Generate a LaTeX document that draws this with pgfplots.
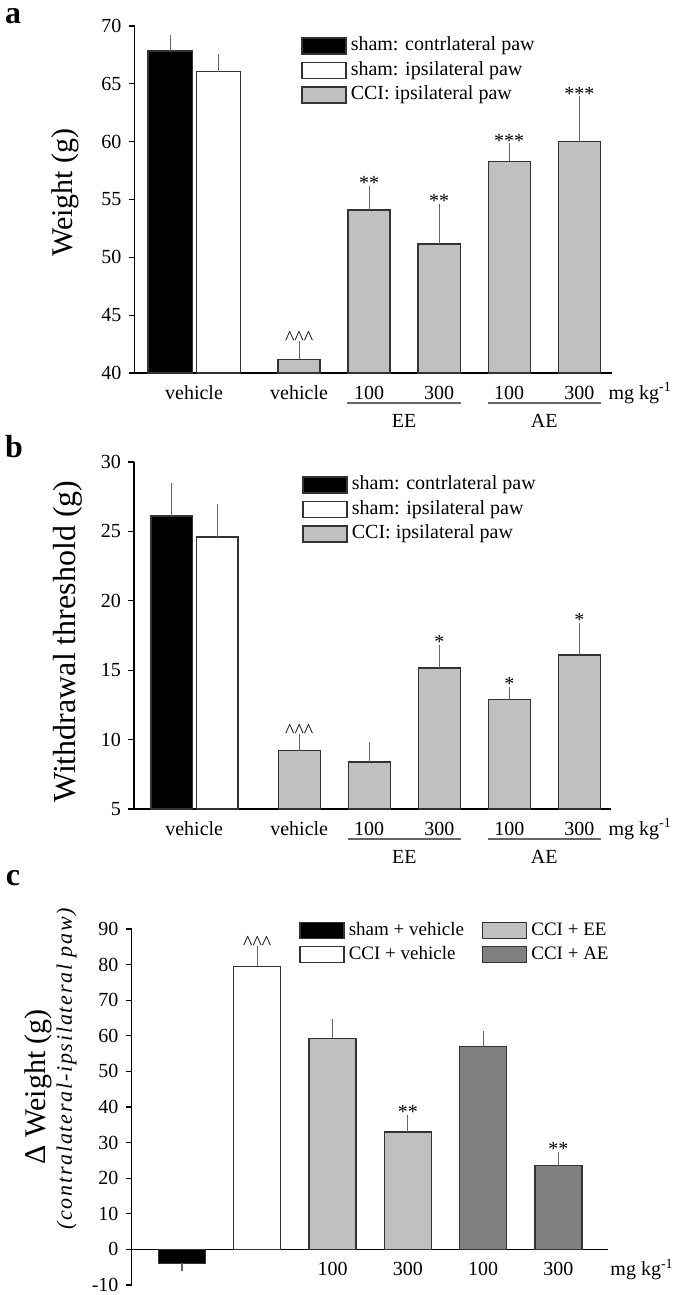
\documentclass[border=0pt]{standalone}
\usepackage{fontspec}
\setmainfont{Liberation Serif}
\usepackage{pgfplots}
\pgfplotsset{compat=1.18}

\definecolor{barg}{HTML}{C0C0C0}
\definecolor{bard}{HTML}{808080}
\definecolor{edge}{HTML}{333333}
\definecolor{errc}{HTML}{666666}
\newcommand{\carets}{\textasciicircum\textasciicircum\textasciicircum}
\newcommand{\mgkg}{mg kg\textsuperscript{-1}}

\tikzset{
  unit/.style={anchor=base, inner sep=0pt, font=\fontsize{10}{12}\selectfont},
  grp/.style={anchor=north, inner sep=0pt, font=\fontsize{10}{12}\selectfont},
  letter/.style={inner sep=0pt, font=\fontsize{16}{18}\selectfont\bfseries},
}

\pgfplotsset{
  panel/.style={
    scale only axis, clip mode=individual,
    axis x line*=bottom, axis y line*=left,
    axis line style={-, line width=0.8pt, black},
    tick align=outside, major tick length=3pt,
    ytick style={line width=0.6pt, black},
    xtick style={draw=none},
    tick label style={font=\fontsize{10}{12}\selectfont},
    /pgf/number format/assume math mode=true,
    label style={font=\fontsize{15}{18}\selectfont},
    legend cell align=left,
    legend style={draw=none, fill=none, inner sep=0pt, row sep=3pt,
      anchor=north west, font=\fontsize{10}{12}\selectfont,
      cells={anchor=west},
      nodes={inner xsep=2pt, inner ysep=0pt, text height=7pt, text depth=2.2pt}},
  },
  bar/.style={ybar, bar shift=0pt, bar width=#1, draw=edge, line width=0.7pt,
    error bars/y dir=plus, error bars/y explicit,
    error bars/error bar style={errc, line width=0.6pt},
    error bars/error mark options={errc, line width=0.6pt, mark size=2pt},
    legend image code/.code={\draw[##1] (0pt,-4pt) rectangle (22pt,4pt);}},
  sig/.style={draw=none, forget plot, nodes near coords,
    point meta=explicit symbolic,
    nodes near coords style={anchor=south, inner sep=0pt,
      font=\fontsize{10}{12}\selectfont}},
}

\begin{document}
\begin{tikzpicture}
\path[use as bounding box] (0,0) rectangle (337.5pt,-647.5pt);

\node[letter] at (6.5pt,-8pt) {a};
\node[letter] at (7pt,-223.5pt) {b};
\node[letter] at (6.5pt,-439pt) {c};

% ---- panel a ----
\begin{axis}[panel, at={(67.25pt,-186.5pt)}, anchor=south west,
  width=238.5pt, height=173.5pt,
  xmin=0.65, xmax=7.46, ymin=40, ymax=70, ytick={40,45,...,70},
  xtick={1.5,3,4,5,6,7}, xticklabels={vehicle,vehicle,100,300,100,300},
  ylabel={Weight (g)},
  ylabel style={at={(axis description cs:-0.145,0.52)}, anchor=center},
  legend style={at={(0.349,0.97)}},
  after end axis/.code={
    \node[unit] at ([yshift=-13.1pt]axis cs:7.87,40) {\mgkg};
    \draw[errc, line width=0.75pt] ([yshift=-15pt]axis cs:3.69,40) -- ([yshift=-15pt]axis cs:5.31,40);
    \draw[errc, line width=0.75pt] ([yshift=-15pt]axis cs:5.69,40) -- ([yshift=-15pt]axis cs:7.31,40);
    \node[grp] at ([yshift=-20.5pt]axis cs:4.5,40) {EE};
    \node[grp] at ([yshift=-20.5pt]axis cs:6.5,40) {AE};
  }]
\addplot[bar=0.63, fill=black] coordinates {(1.16,67.84) +- (0,1.0)};
\addlegendentry{sham: contrlateral paw}
\addplot[bar=0.63, fill=white] coordinates {(1.85,66.05) +- (0,1.18)};
\addlegendentry{sham: ipsilateral paw}
\addplot[bar=0.6, fill=barg] coordinates {
  (3,41.18) +- (0,1.22) (4,54.1) +- (0,1.7) (5,51.15) +- (0,3.15)
  (6,58.3) +- (0,1.2) (7,60.0) +- (0,3.56)};
\addlegendentry{CCI: ipsilateral paw}
\addplot[sig] coordinates {(3,42.4) [\carets] (4,55.8) [**] (5,54.3) [**]
  (6,59.5) [***] (7,63.56) [***]};
\end{axis}

% ---- panel b ----
\begin{axis}[panel, at={(67pt,-404.5pt)}, anchor=south west,
  width=238.75pt, height=173.5pt,
  xmin=0.64, xmax=7.46, ymin=5, ymax=30, ytick={5,10,...,30},
  xtick={1.5,3,4,5,6,7}, xticklabels={vehicle,vehicle,100,300,100,300},
  ylabel={Withdrawal threshold (g)},
  ylabel style={at={(axis description cs:-0.139,0.482)}, anchor=center,
    font=\fontsize{16}{18}\selectfont},
  legend style={at={(0.352,0.961)}},
  after end axis/.code={
    \node[unit] at ([yshift=-13.1pt]axis cs:7.87,5) {\mgkg};
    \draw[errc, line width=0.75pt] ([yshift=-15pt]axis cs:3.69,5) -- ([yshift=-15pt]axis cs:5.31,5);
    \draw[errc, line width=0.75pt] ([yshift=-15pt]axis cs:5.69,5) -- ([yshift=-15pt]axis cs:7.31,5);
    \node[grp] at ([yshift=-20.5pt]axis cs:4.5,5) {EE};
    \node[grp] at ([yshift=-20.5pt]axis cs:6.5,5) {AE};
  }]
\addplot[bar=0.59, fill=black] coordinates {(1.18,26.1) +- (0,2.1)};
\addlegendentry{sham: contrlateral paw}
\addplot[bar=0.59, fill=white] coordinates {(1.83,24.6) +- (0,2.1)};
\addlegendentry{sham: ipsilateral paw}
\addplot[bar=0.6, fill=barg] coordinates {
  (3,9.2) +- (0,0.9) (4,8.4) +- (0,1.13) (5,15.17) +- (0,1.33)
  (6,12.9) +- (0,0.6) (7,16.1) +- (0,2.0)};
\addlegendentry{CCI: ipsilateral paw}
\addplot[sig] coordinates {(3,10.1) [\carets] (5,16.5) [*] (6,13.5) [*] (7,18.1) [*]};
\end{axis}

% ---- panel c ----
\begin{axis}[panel, at={(65.75pt,-642.5pt)}, anchor=south west,
  width=238.15pt, height=178pt,
  axis x line*=middle, hide obscured y ticks=false,
  xmin=0.33, xmax=6.655, ymin=-10, ymax=90, ytick={-10,0,...,90},
  xtick={3,4,5,6}, xticklabels={100,300,100,300},
  ylabel={Δ Weight (g)},
  ylabel style={at={(axis description cs:-0.196,0.557)}, anchor=center},
  legend columns=2,
  legend style={at={(0.3517,1.022)}, row sep=2.8pt, font=\fontsize{9.5}{11}\selectfont,
    /tikz/every even column/.append style={column sep=7pt}},
  after end axis/.code={
    \node[unit] at ([yshift=-13.1pt]axis cs:7.11,0) {\mgkg};
    \node[rotate=90, anchor=center,
      font=\fontsize{11}{13}\selectfont\itshape\addfontfeatures{LetterSpace=8}]
      at (axis description cs:-0.1365,0.607) {(contralateral-ipsilateral paw)};
  }]
\addplot[bar=0.624, fill=black, error bars/y dir=minus] coordinates {(1,-3.9) +- (0,1.0)};
\addlegendentry{sham + vehicle}
\addplot[bar=0.624, fill=barg] coordinates {(3,59.3) +- (0,4.2) (4,33.0) +- (0,3.7)};
\addlegendentry{CCI + EE}
\addplot[bar=0.624, fill=white] coordinates {(2,79.5) +- (0,4.7)};
\addlegendentry{CCI + vehicle}
\addplot[bar=0.624, fill=bard] coordinates {(5,57.0) +- (0,3.1) (6,23.5) +- (0,2.8)};
\addlegendentry{CCI + AE}
\addplot[sig] coordinates {(2,84.2) [\carets] (4,36.7) [**] (6,26.3) [**]};
\end{axis}
\end{tikzpicture}
\end{document}
